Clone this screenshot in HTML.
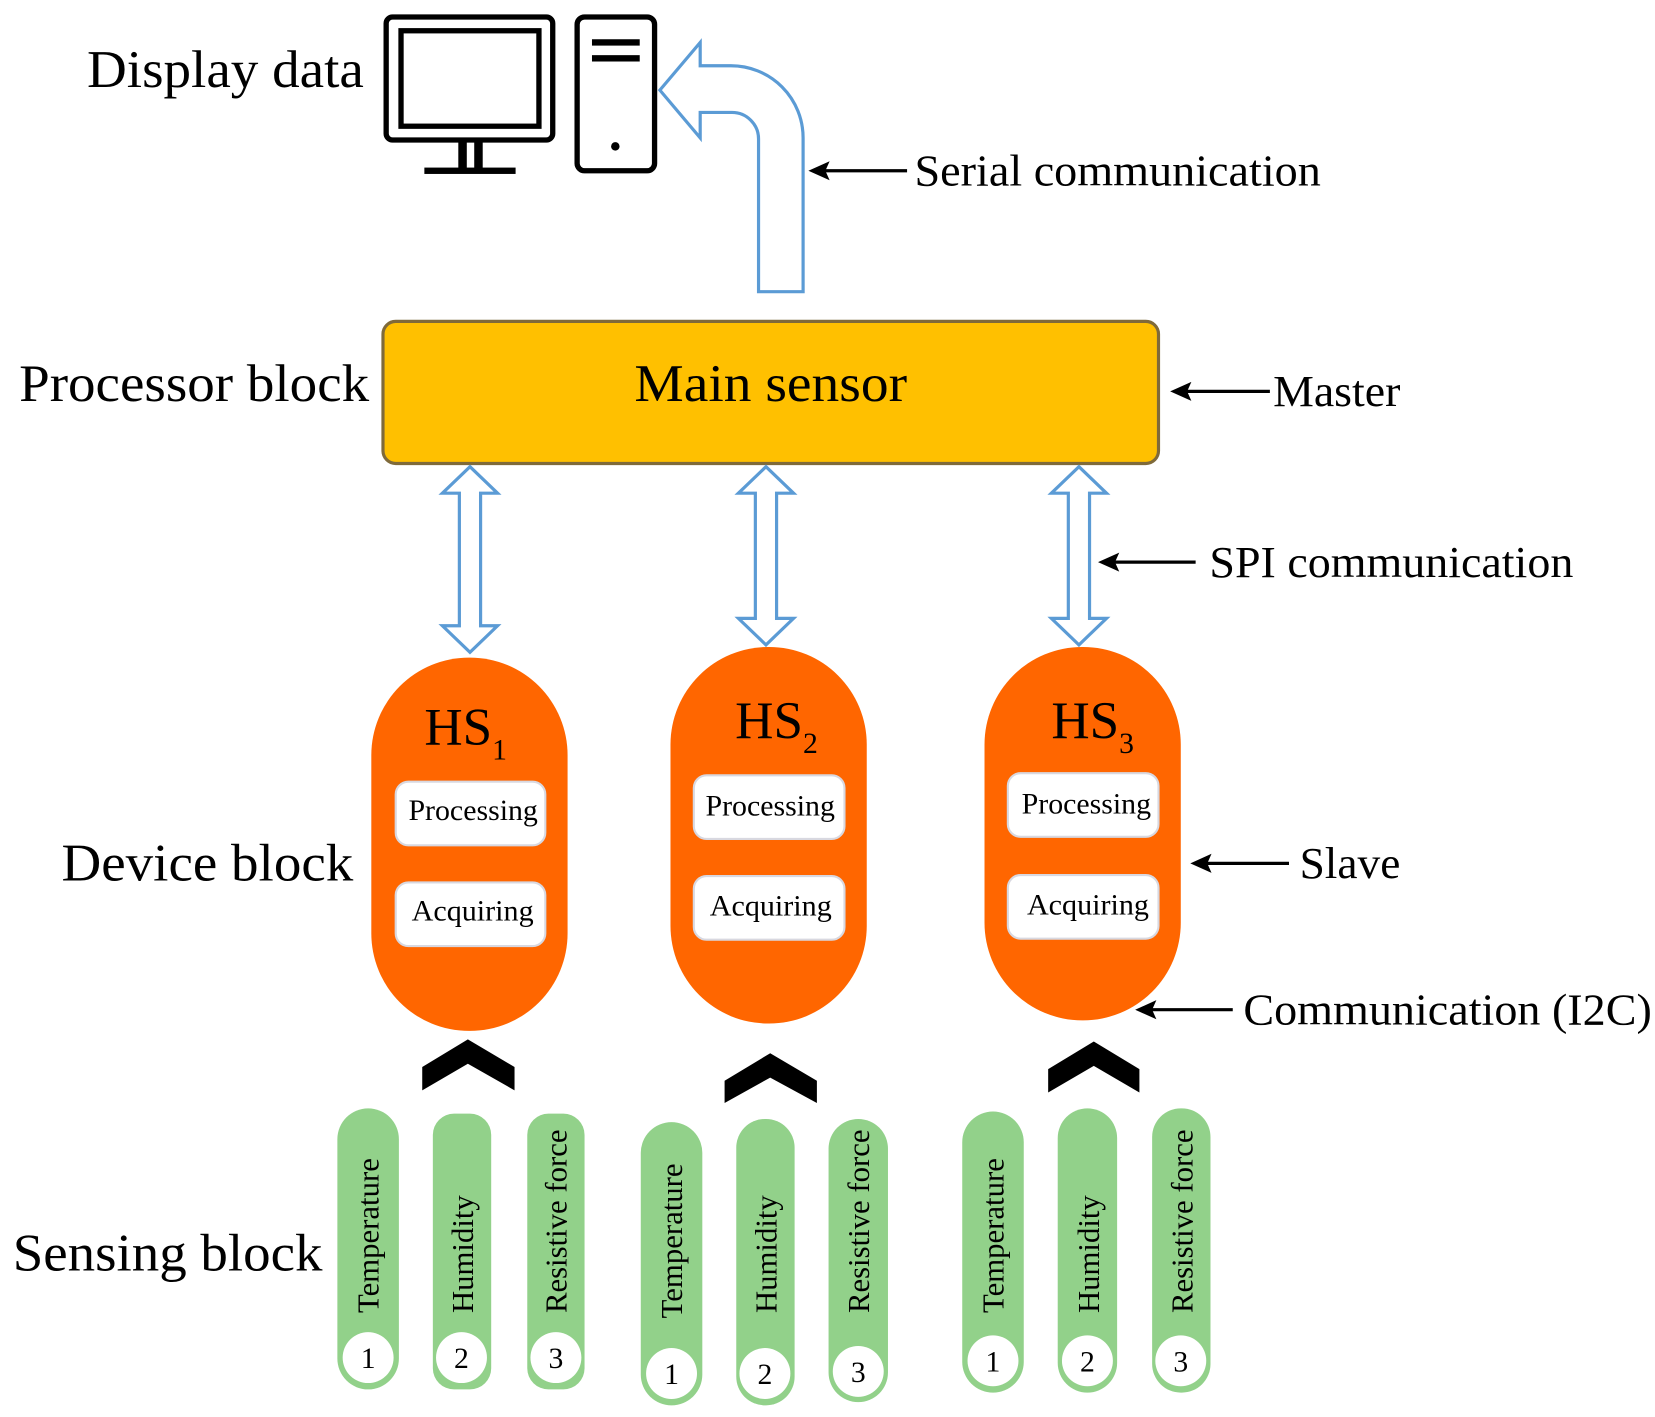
<!DOCTYPE html>
<html><head><meta charset="utf-8"><style>
html,body{margin:0;padding:0;background:#fff;}
svg{display:block;}
text{font-family:"Liberation Serif",serif;fill:#000;}
</style></head><body>
<svg width="1655" height="1417" viewBox="0 0 1560 1336" preserveAspectRatio="none" xmlns="http://www.w3.org/2000/svg">
<!-- Display -->
<text x="82" y="82" font-size="50" textLength="261" lengthAdjust="spacingAndGlyphs">Display data</text>
<rect x="364" y="16" width="157" height="116" rx="6" fill="#fff" stroke="#000" stroke-width="5"/>
<rect x="378" y="29" width="130" height="90" fill="#fff" stroke="#000" stroke-width="5"/>
<rect x="432" y="132" width="8" height="28" fill="#000"/>
<rect x="447" y="132" width="8" height="28" fill="#000"/>
<rect x="400" y="158" width="86" height="6" fill="#000"/>
<rect x="544" y="16" width="73" height="145" rx="7" fill="#fff" stroke="#000" stroke-width="5"/>
<rect x="558" y="37" width="45" height="6" fill="#000"/>
<rect x="558" y="52" width="45" height="6" fill="#000"/>
<circle cx="580" cy="138" r="4" fill="#000"/>
<!-- serial arrow -->
<path d="M715,275 L757,275 L757,130 A68,68 0 0 0 689,62 L660,62 L660,40 L622,85 L660,130 L660,106 L690,106 A25,25 0 0 1 715,131 Z" fill="#fff" stroke="#5B9BD5" stroke-width="3"/>
<line x1="855" y1="161" x2="775" y2="161" stroke="#000" stroke-width="3"/>
<path d="M762,161 L782,152 L778,161 L782,170 Z" fill="#000"/>
<text x="862" y="175" font-size="42" textLength="383" lengthAdjust="spacingAndGlyphs">Serial communication</text>
<!-- Main sensor -->
<text x="18" y="378" font-size="50" textLength="330" lengthAdjust="spacingAndGlyphs">Processor block</text>
<rect x="361" y="303" width="731" height="134" rx="12" fill="#FFC000" stroke="#7f6a3a" stroke-width="3"/>
<text x="598" y="378" font-size="50" textLength="257" lengthAdjust="spacingAndGlyphs">Main sensor</text>
<line x1="1197" y1="369" x2="1116" y2="369" stroke="#000" stroke-width="3"/>
<path d="M1103,369 L1123,360 L1119,369 L1123,378 Z" fill="#000"/>
<text x="1200" y="383" font-size="42" textLength="120" lengthAdjust="spacingAndGlyphs">Master</text>
<!-- double arrows -->
<path d="M443,440 L469,465 L453,465 L453,590 L469,590 L443,615 L417,590 L433,590 L433,465 L417,465 Z" fill="#fff" stroke="#5B9BD5" stroke-width="3"/>
<path d="M722,440 L748,465 L732,465 L732,583 L748,583 L722,608 L696,583 L712,583 L712,465 L696,465 Z" fill="#fff" stroke="#5B9BD5" stroke-width="3"/>
<path d="M1017,440 L1043,465 L1027,465 L1027,583 L1043,583 L1017,608 L991,583 L1007,583 L1007,465 L991,465 Z" fill="#fff" stroke="#5B9BD5" stroke-width="3"/>
<line x1="1127" y1="530" x2="1048" y2="530" stroke="#000" stroke-width="3"/>
<path d="M1035,530 L1055,521 L1051,530 L1055,539 Z" fill="#000"/>
<text x="1140" y="544" font-size="42" textLength="343" lengthAdjust="spacingAndGlyphs">SPI communication</text>
<!-- HS -->
<text x="58" y="830" font-size="50" textLength="275" lengthAdjust="spacingAndGlyphs">Device block</text>
<rect x="350" y="620" width="185" height="352" rx="92" fill="#FF6600"/>
<rect x="632" y="610" width="185" height="355" rx="92" fill="#FF6600"/>
<rect x="928" y="610" width="185" height="352" rx="92" fill="#FF6600"/>
<text x="400" y="702" font-size="50">HS<tspan font-size="28" dy="14">1</tspan></text>
<text x="693" y="696" font-size="50">HS<tspan font-size="28" dy="14">2</tspan></text>
<text x="991" y="696" font-size="50">HS<tspan font-size="28" dy="14">3</tspan></text>
<g fill="#fff" stroke="#d8d8e0" stroke-width="2">
<rect x="373" y="737" width="141" height="60" rx="12"/>
<rect x="373" y="832" width="141" height="60" rx="12"/>
<rect x="654" y="731" width="142" height="60" rx="12"/>
<rect x="654" y="826" width="142" height="60" rx="12"/>
<rect x="950" y="729" width="142" height="60" rx="12"/>
<rect x="950" y="825" width="142" height="60" rx="12"/>
</g>
<g font-size="28">
<text x="385" y="773" textLength="122" lengthAdjust="spacingAndGlyphs">Processing</text>
<text x="388" y="868" textLength="115" lengthAdjust="spacingAndGlyphs">Acquiring</text>
<text x="665" y="769" textLength="122" lengthAdjust="spacingAndGlyphs">Processing</text>
<text x="669" y="863" textLength="115" lengthAdjust="spacingAndGlyphs">Acquiring</text>
<text x="963" y="767" textLength="122" lengthAdjust="spacingAndGlyphs">Processing</text>
<text x="968" y="862" textLength="115" lengthAdjust="spacingAndGlyphs">Acquiring</text>
</g>
<line x1="1215" y1="814" x2="1135" y2="814" stroke="#000" stroke-width="3"/>
<path d="M1122,814 L1142,805 L1138,814 L1142,823 Z" fill="#000"/>
<text x="1225" y="828" font-size="42" textLength="95" lengthAdjust="spacingAndGlyphs">Slave</text>
<line x1="1162" y1="952" x2="1083" y2="952" stroke="#000" stroke-width="3"/>
<path d="M1070,952 L1090,943 L1086,952 L1090,961 Z" fill="#000"/>
<text x="1172" y="966" font-size="42" textLength="385" lengthAdjust="spacingAndGlyphs">Communication (I2C)</text>
<!-- chevrons -->
<path d="M398,1006 L441,980 L485,1006 L485,1028 L441,1003 L398,1028 Z" fill="#000"/>
<path d="M683,1019 L726,993 L770,1019 L770,1040 L726,1016 L683,1040 Z" fill="#000"/>
<path d="M988,1008 L1031,982 L1074,1008 L1074,1030 L1031,1005 L988,1030 Z" fill="#000"/>
<!-- Sensing -->
<text x="12" y="1198" font-size="50" textLength="292" lengthAdjust="spacingAndGlyphs">Sensing block</text>
<g fill="#92D18A">
<rect x="318" y="1045" width="58" height="265" rx="29"/>
<rect x="408" y="1050" width="55" height="260" rx="20"/>
<rect x="497" y="1050" width="54" height="260" rx="20"/>
<rect x="604" y="1058" width="58" height="267" rx="29"/>
<rect x="694" y="1055" width="55" height="270" rx="27"/>
<rect x="781" y="1055" width="56" height="267" rx="28"/>
<rect x="907" y="1048" width="58" height="265" rx="29"/>
<rect x="997" y="1045" width="56" height="268" rx="28"/>
<rect x="1086" y="1045" width="55" height="268" rx="27"/>
</g>
<g fill="#fff">
<circle cx="347" cy="1280" r="24"/>
<circle cx="435" cy="1280" r="24"/>
<circle cx="524" cy="1280" r="24"/>
<circle cx="633" cy="1295" r="24"/>
<circle cx="721" cy="1295" r="24"/>
<circle cx="809" cy="1293" r="24"/>
<circle cx="936" cy="1283" r="24"/>
<circle cx="1025" cy="1283" r="24"/>
<circle cx="1113" cy="1283" r="24"/>
</g>
<g font-size="28" text-anchor="middle">
<text x="347" y="1290">1</text><text x="435" y="1290">2</text><text x="524" y="1290">3</text>
<text x="633" y="1305">1</text><text x="721" y="1305">2</text><text x="809" y="1303">3</text>
<text x="936" y="1293">1</text><text x="1025" y="1293">2</text><text x="1113" y="1293">3</text>
</g>
<g font-size="29">
<text transform="translate(357,1238) rotate(-90)">Temperature</text>
<text transform="translate(446,1238) rotate(-90)">Humidity</text>
<text transform="translate(534,1238) rotate(-90)">Resistive force</text>
<text transform="translate(643,1243) rotate(-90)">Temperature</text>
<text transform="translate(732,1238) rotate(-90)">Humidity</text>
<text transform="translate(819,1238) rotate(-90)">Resistive force</text>
<text transform="translate(946,1238) rotate(-90)">Temperature</text>
<text transform="translate(1036,1238) rotate(-90)">Humidity</text>
<text transform="translate(1124,1238) rotate(-90)">Resistive force</text>
</g>
</svg>
</body></html>
